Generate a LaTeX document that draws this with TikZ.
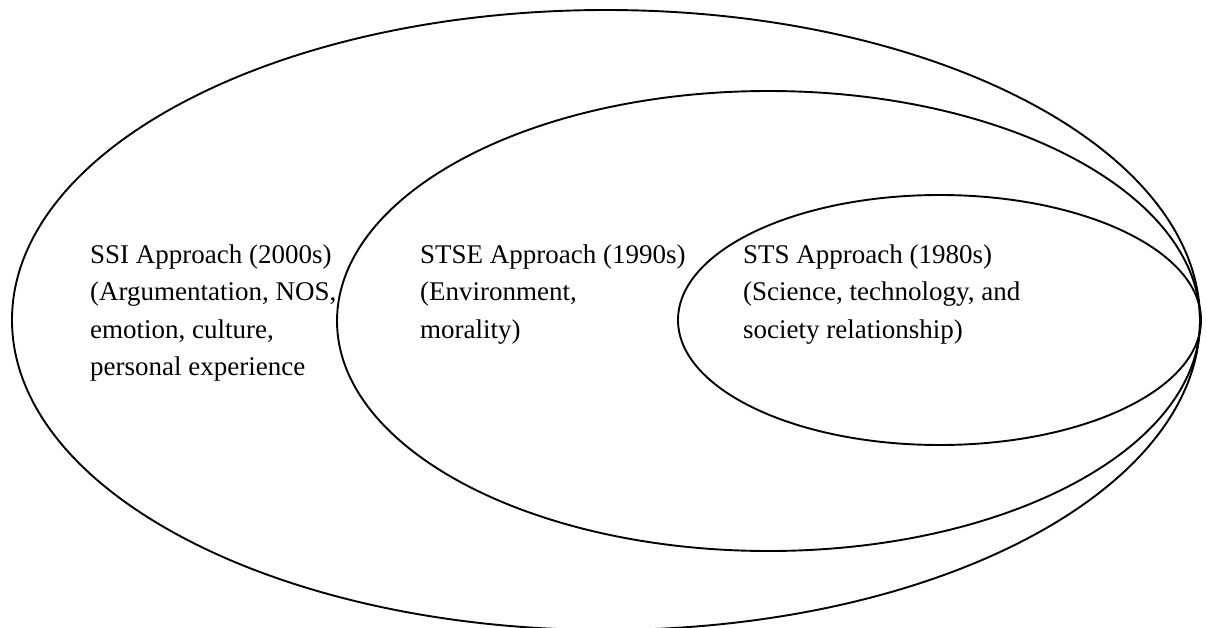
\documentclass[tikz,border=0pt]{standalone}
\usepackage{fontspec}
\setmainfont{Liberation Serif}
\usepackage{tikz}

\tikzset{
  ring/.style={draw,line width=1.9pt},
  label/.style={anchor=base west,align=left,inner sep=0pt,
    font=\fontsize{27}{37.5}\selectfont}
}

\begin{document}
\begin{tikzpicture}[x=1pt,y=-1pt]
      \useasboundingbox (0,0) rectangle (1207,627);

      \draw[ring] (606,320) ellipse [x radius=594,y radius=310];
      \draw[ring] (768.5,321) ellipse [x radius=431.5,y radius=230];
      \draw[ring] (939.5,320) ellipse [x radius=261.5,y radius=125];

      % base anchor sits on the last line
      \node[label] (ssi) at (90,375.5) {SSI Approach (2000s)\\(Argumentation, NOS,\\emotion, culture,\\personal experience};
      \node[label] (stse) at (420,338) {STSE Approach (1990s)\\(Environment,\\morality)};
      \node[label] (sts) at (743,338) {STS Approach (1980s)\\(Science, technology, and\\society relationship)};
    \end{tikzpicture}
\end{document}
